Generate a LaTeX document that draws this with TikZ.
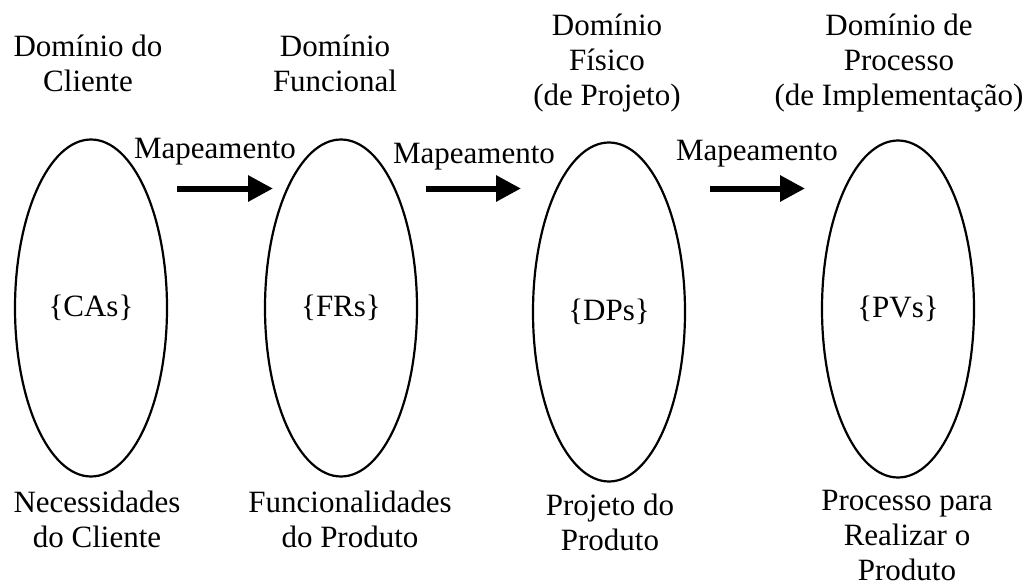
\documentclass[tikz,border=0pt]{standalone}
\usepackage{fontspec}
\setmainfont{Liberation Serif}
\usetikzlibrary{shapes.geometric,arrows.meta}
\begin{document}
\begin{tikzpicture}[x=1pt,y=-1pt,
  domainoval/.style={ellipse,draw,line width=2.2pt,minimum width=152pt,minimum height=337pt,inner sep=0pt,font=\fontsize{31}{35}\selectfont},
  lbl/.style={align=center,inner sep=0pt,anchor=base,font=\fontsize{31}{35}\selectfont},
  maplbl/.style={inner sep=0pt,anchor=base,font=\fontsize{31}{35}\selectfont},
  maparrow/.style={line width=6pt,-{Triangle[length=25pt,width=25pt]}}]
\useasboundingbox (0,0) rectangle (1031,586);
% ellipses
\node[domainoval] (ca) at (91,308) {\{CAs\}};
\node[domainoval] (fr) at (341,308) {\{FRs\}};
\node[domainoval,minimum height=339pt] (dp) at (609,312) {\{DPs\}};
\node[domainoval] (pv) at (898,309) {\{PVs\}};
% top labels (anchor = baseline of last line)
\node[lbl] (t1) at (88,92) {Domínio do\\Cliente};
\node[lbl] (t2) at (335,92) {Domínio\\Funcional};
\node[lbl] (t3) at (607,105) {Domínio\\Físico\\(de Projeto)};
\node[lbl] (t4) at (899,105) {Domínio de\\Processo\\(de Implementação)};
% bottom labels
\node[lbl] (b1) at (97,547) {Necessidades\\do Cliente};
\node[lbl] (b2) at (350,547) {Funcionalidades\\do Produto};
\node[lbl] (b3) at (610,550) {Projeto do\\Produto};
\node[lbl] (b4) at (907,580) {Processo para\\Realizar o\\Produto};
% mapping labels
\node[maplbl] (m1) at (215,158) {Mapeamento};
\node[maplbl] (m2) at (474,163) {Mapeamento};
\node[maplbl] (m3) at (757,160) {Mapeamento};
% arrows
\coordinate (a1s) at (177,188.5); \coordinate (a1e) at (273,188.5);
\coordinate (a2s) at (426,188.5); \coordinate (a2e) at (521,188.5);
\coordinate (a3s) at (710,188.5); \coordinate (a3e) at (805,188.5);
\draw[maparrow] (a1s) -- (a1e);
\draw[maparrow] (a2s) -- (a2e);
\draw[maparrow] (a3s) -- (a3e);
\end{tikzpicture}
\end{document}
